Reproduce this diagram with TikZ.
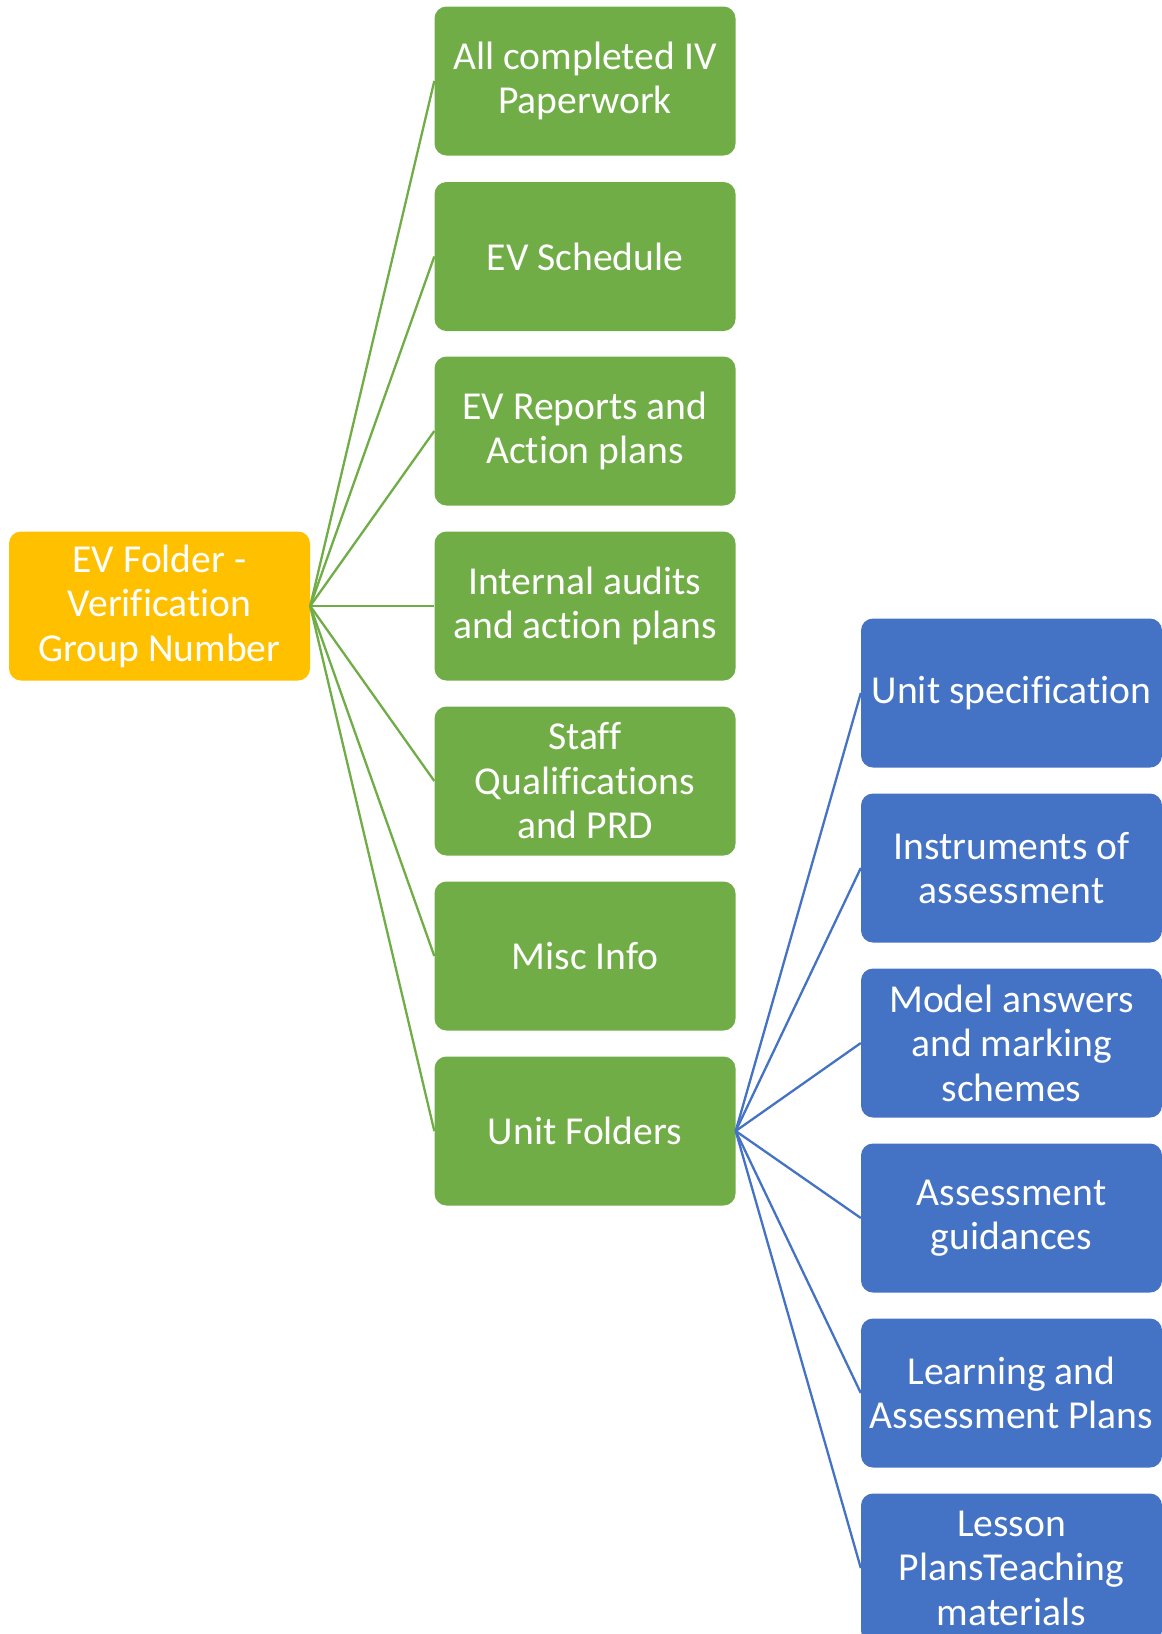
\documentclass[tikz,border=0pt]{standalone}
\usepackage{fontspec}
\setmainfont[Ligatures=NoCommon]{Carlito}
\definecolor{cgreen}{HTML}{70AD47}
\definecolor{corange}{HTML}{FFC000}
\definecolor{cblue}{HTML}{4472C4}
\begin{document}
\begin{tikzpicture}[x=1pt,y=-1pt,
  box/.style={rounded corners=12pt, minimum width=301pt, minimum height=149pt, inner sep=0pt,
    text=white, align=center, font=\fontsize{39.6}{44.5}\selectfont},
  rootbox/.style={box, fill=corange},
  gbox/.style={box, fill=cgreen},
  bbox/.style={box, fill=cblue},
  gline/.style={draw=cgreen, line width=2.3pt},
  bline/.style={draw=cblue, line width=2.3pt}]
\useasboundingbox (0,0) rectangle (1162,1634);
\clip (0,0) rectangle (1162,1634);
\node[rootbox] (root) at (159.5,606) {EV Folder -\\Verification\\Group Number};
\node[gbox] (g1) at (585,81) {All completed IV\\Paperwork};
\node[gbox] (g2) at (585,256.5) {EV Schedule};
\node[gbox] (g3) at (585,431) {EV Reports and\\Action plans};
\node[gbox] (g4) at (585,606) {Internal audits\\and action plans};
\node[gbox] (g5) at (585,781) {Staff\\Qualifications\\and PRD};
\node[gbox] (g6) at (585,956) {Misc Info};
\node[gbox] (g7) at (585,1131) {Unit Folders};
\node[bbox] (b1) at (1011.5,693) {Unit specification};
\node[bbox] (b2) at (1011.5,868) {Instruments of\\assessment};
\node[bbox] (b3) at (1011.5,1043) {Model answers\\and marking\\schemes};
\node[bbox] (b4) at (1011.5,1218) {Assessment\\guidances};
\node[bbox] (b5) at (1011.5,1393) {Learning and\\Assessment Plans};
\node[bbox] (b6) at (1011.5,1568) {Lesson\\PlansTeaching\\materials};
\foreach \g in {g1,g2,g3,g4,g5,g6,g7} \draw[gline] (root.east) -- (\g.west);
\foreach \b in {b1,b2,b3,b4,b5,b6} \draw[bline] (g7.east) -- (\b.west);
\end{tikzpicture}
\end{document}
